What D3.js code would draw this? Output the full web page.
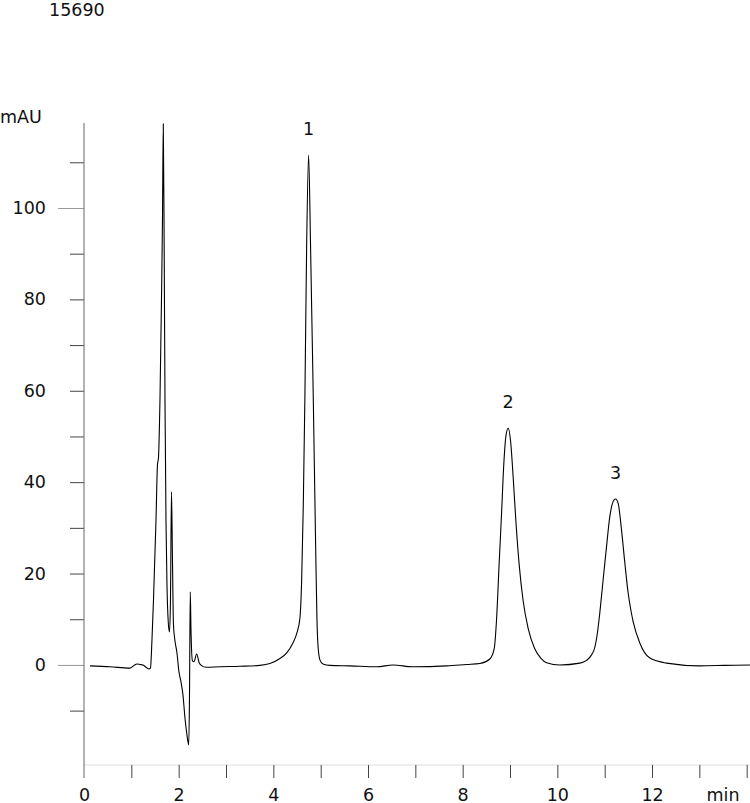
<!DOCTYPE html>
<html>
<head>
<meta charset="utf-8">
<script src="https://cdn.jsdelivr.net/npm/d3@7/dist/d3.min.js"></script>
<style>
  body { margin: 0; background: #fff; }
  svg text { font-family: "DejaVu Sans", Verdana, sans-serif; font-size: 17.5px; fill: #111; }
</style>
</head>
<body>
<svg id="chart" width="750" height="803"></svg>
<script>
"use strict";

// Sample id shown above the plot
const sampleId = "15690";

// Trace: retention time (min), absorbance (mAU)
const times = [
  0.127, 0.549, 0.971, 1.056, 1.119, 1.183, 1.246, 1.309, 1.373, 1.404,
  1.436, 1.468, 1.521, 1.552, 1.573, 1.605, 1.637, 1.658, 1.675, 1.694,
  1.711, 1.732, 1.753, 1.780, 1.806, 1.827, 1.848, 1.869, 1.890, 1.922,
  1.964, 2.006, 2.049, 2.091, 2.133, 2.175, 2.213, 2.228, 2.245, 2.260,
  2.291, 2.323, 2.380, 2.435, 2.492, 2.577, 2.872, 3.295, 3.717, 3.928,
  4.139, 4.287, 4.414, 4.498, 4.562, 4.598, 4.632, 4.667, 4.703, 4.745,
  4.787, 4.843, 4.893, 4.921, 4.942, 4.984, 5.048, 5.195, 5.618, 6.188,
  6.526, 6.948, 7.666, 8.082, 8.363, 8.574, 8.665, 8.716, 8.771,
  8.822, 8.870, 8.912, 8.961, 9.012, 9.067, 9.124, 9.193, 9.278, 9.383,
  9.525, 9.650, 9.772, 10.053, 10.475, 10.617, 10.722, 10.790, 10.840, 10.897,
  10.967, 11.039, 11.109, 11.166, 11.229, 11.284, 11.356, 11.426, 11.495, 11.548,
  11.601, 11.742, 11.954, 12.306, 13.010, 13.538, 14.07
];
const mAU = [
  -0.2, -0.4, -0.7, -0.1, 0.2, 0.1, 0.0, -0.5, -0.9, -0.7,
  5.5, 14.2, 31.7, 43.8, 45.3, 58.0, 79.9, 97.4, 118.4, 90.8,
  58.0, 31.7, 17.5, 9.4, 7.2, 14.2, 37.9, 23.0, 8.8, 5.3,
  2.6, -1.5, -3.7, -6.6, -11.6, -15.3, -17.5, -7.7, 16.0, 7.7,
  0.9, 0.7, 2.4, 0.4, -0.2, -0.5, -0.4, -0.3, -0.1, 0.3,
  1.4, 2.7, 4.8, 7.0, 10.3, 18.4, 34.6, 58.9, 91.2, 111.6,
  91.2, 58.9, 26.5, 10.3, 4.4, 1.1, 0.2, -0.1, -0.2, -0.4,
  0.0, -0.4, -0.2, 0.1, 0.3, 1.3, 3.5, 10.0, 22.3,
  33.3, 44.2, 50.0, 51.8, 49.0, 41.0, 31.5, 22.0, 14.0, 8.0,
  3.5, 1.5, 0.5, 0.0, 0.4, 1.0, 2.2, 3.8, 6.5, 11.4,
  18.6, 25.9, 32.5, 35.4, 36.3, 35.4, 29.5, 22.3, 15.8, 12.3,
  9.5, 4.8, 1.5, 0.4, -0.2, -0.1, 0.0
];

// Numbered peaks
const peakNames = ["1", "2", "3"];
const peakTimes = [4.745, 8.961, 11.229];
const peakHeights = [111.6, 51.8, 36.3];

const xTicks = d3.range(0, 15);
const xLabelTicks = [0, 2, 4, 6, 8, 10, 12];
const yTicks = d3.range(-10, 111, 10);
const yLabelTicks = [0, 20, 40, 60, 80, 100];

const svg = d3.select("#chart");

const x = d3.scaleLinear().domain([0, 14.07]).range([84, 750]);
const y = d3.scaleLinear().domain([-21.9, 118.6]).range([765, 123]);

// title and unit
svg.append("text").attr("x", 49).attr("y", 16).text(sampleId);
svg.append("text").attr("x", 0).attr("y", 123).text("mAU");

// light baseline of the time axis
svg.append("line")
    .attr("x1", x(0)).attr("x2", 750)
    .attr("y1", 765).attr("y2", 765)
    .attr("stroke", "#ddd");

// time axis
let xAxis = svg.append("g")
    .attr("transform", "translate(0,765)")
    .call(d3.axisBottom(x)
        .tickValues(xTicks)
        .tickSize(13)
        .tickFormat(function (d) { return xLabelTicks.includes(d) ? d : ""; }));
xAxis.select(".domain").remove();
xAxis.selectAll("line").attr("stroke", "#444");
xAxis.selectAll("text")
    .attr("y", 36).attr("dy", null)
    .style("font-size", "17.5px").style("font-family", "DejaVu Sans").attr("fill", "#111");
xAxis.selectAll(".tick").filter(function (d) { return d === 0; }).select("line").remove();

svg.append("text")
    .attr("x", x(13.5)).attr("y", 801)
    .attr("text-anchor", "middle")
    .text("min");

// absorbance axis
let yAxis = svg.append("g")
    .attr("transform", "translate(84,0)")
    .call(d3.axisLeft(y)
        .tickValues(yTicks)
        .tickSize(14)
        .tickPadding(24)
        .tickFormat(function (d) { return yLabelTicks.includes(d) ? d : ""; }));
yAxis.select(".domain").remove();
yAxis.selectAll("line").attr("stroke", "#444");
yAxis.selectAll(".tick").filter(function (d) { return d === 0 || d === 100; })
    .select("line").attr("x2", -26).attr("stroke", "#999");
yAxis.selectAll("text")
    .attr("x", -38)
    .style("font-size", "17.5px").style("font-family", "DejaVu Sans").attr("fill", "#111");

svg.append("line")
    .attr("x1", 84).attr("x2", 84)
    .attr("y1", 123).attr("y2", 778)
    .attr("stroke", "#666");

// chromatogram trace
svg.append("clipPath").attr("id", "plot")
    .append("rect").attr("x", 84).attr("y", 123).attr("width", 666).attr("height", 660);

let line = d3.line()
    .x(function (d, i) { return x(times[i]); })
    .y(function (d) { return y(d); })
    .curve(d3.curveMonotoneX);

svg.append("path")
    .attr("clip-path", "url(#plot)")
    .attr("d", line(mAU))
    .attr("fill", "none")
    .attr("stroke", "#000")
    .attr("stroke-width", 1.1);

// peak numbers
svg.selectAll(".peak")
    .data(peakNames)
    .enter()
    .append("text")
    .attr("class", "peak")
    .attr("x", function (d, i) { return x(peakTimes[i]); })
    .attr("y", function (d, i) { return y(peakHeights[i]) - 20; })
    .attr("text-anchor", "middle")
    .text(function (d) { return d; });
</script>
</body>
</html>
